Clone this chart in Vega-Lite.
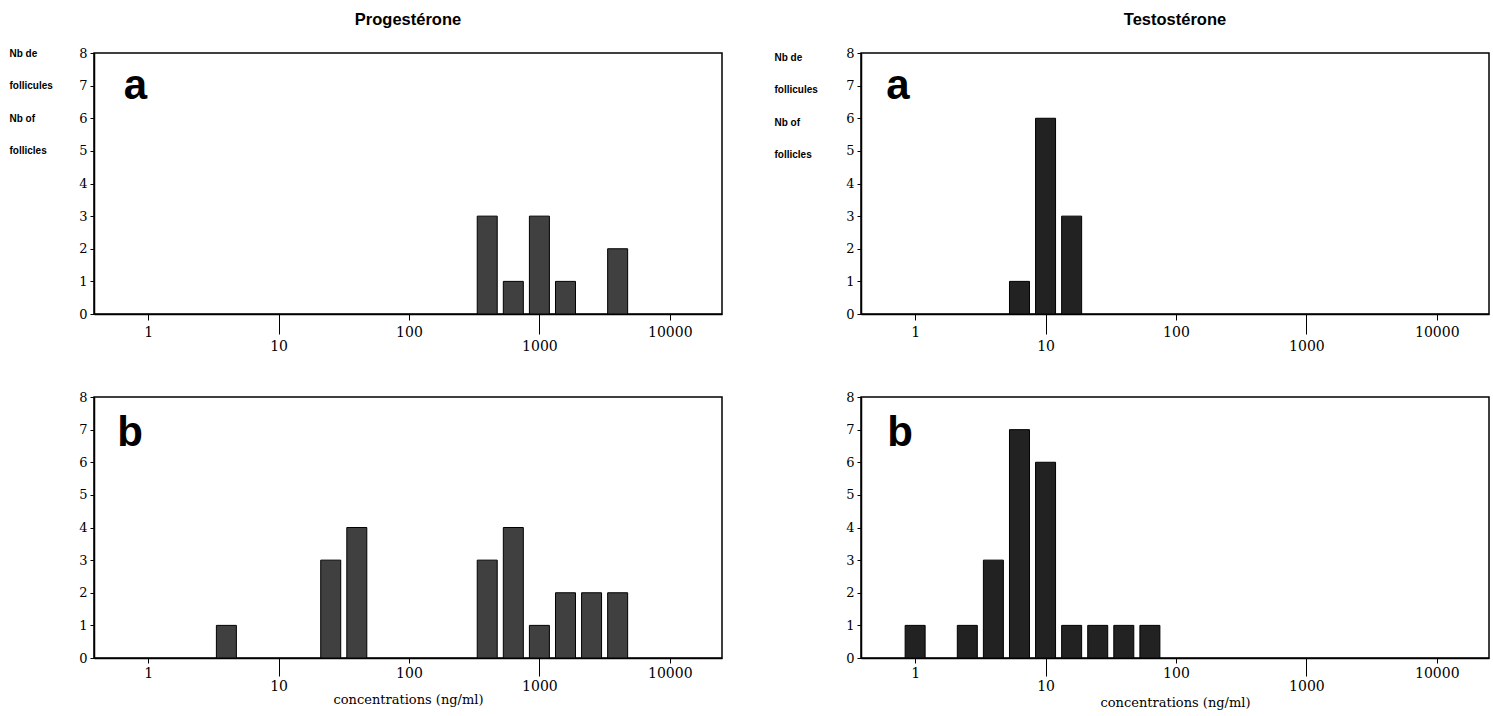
{
  "$schema": "https://vega.github.io/schema/vega-lite/v6.json",
  "background": "white",
  "padding": {"left": 8, "top": 10, "right": 5, "bottom": 5},
  "datasets": {
    "prog_a": [
      {"conc": 398.1, "n": 3}, {"conc": 631.0, "n": 1}, {"conc": 1000, "n": 3},
      {"conc": 1585, "n": 1}, {"conc": 3981, "n": 2}
    ],
    "prog_b": [
      {"conc": 3.981, "n": 1}, {"conc": 25.12, "n": 3}, {"conc": 39.81, "n": 4},
      {"conc": 398.1, "n": 3}, {"conc": 631.0, "n": 4}, {"conc": 1000, "n": 1},
      {"conc": 1585, "n": 2}, {"conc": 2512, "n": 2}, {"conc": 3981, "n": 2}
    ],
    "test_a": [
      {"conc": 6.31, "n": 1}, {"conc": 10, "n": 6}, {"conc": 15.85, "n": 3}
    ],
    "test_b": [
      {"conc": 1, "n": 1}, {"conc": 2.512, "n": 1}, {"conc": 3.981, "n": 3},
      {"conc": 6.31, "n": 7}, {"conc": 10, "n": 6}, {"conc": 15.85, "n": 1},
      {"conc": 25.12, "n": 1}, {"conc": 39.81, "n": 1}, {"conc": 63.1, "n": 1}
    ]
  },
  "columns": 2,
  "spacing": {"row": 83, "column": 139},
  "bounds": "flush",
  "concat": [
    {
      "width": 628, "height": 261,
      "title": {"text": "Progestérone", "frame": "group", "anchor": "middle", "offset": 19, "font": "Liberation Sans", "fontSize": 16.5, "fontWeight": "bold", "color": "black"},
      "layer": [
        {
          "data": {"name": "prog_a"},
          "mark": {"type": "bar", "orient": "vertical", "width": 20, "fill": "#404040", "stroke": "black", "strokeWidth": 1},
          "encoding": {
            "x": {"field": "conc", "type": "quantitative", "scale": {"type": "log", "domain": [0.42, 23000], "nice": false},
              "axis": {"values": [1, 10, 100, 1000, 10000], "format": "d", "title": null, "labelPadding": 5,
                "tickSize": {"condition": {"test": "datum.value == 10 || datum.value == 1000", "value": 20}, "value": 6}}},
            "y": {"field": "n", "type": "quantitative", "scale": {"domain": [0, 8], "nice": false},
              "axis": {"values": [0, 1, 2, 3, 4, 5, 6, 7, 8], "title": ["Nb de", "follicules", "Nb of", "follicles"],
                "titleAngle": 0, "titleAlign": "left", "titleBaseline": "middle", "titleX": -85, "titleY": 0,
                "titleLineHeight": 32.5, "titleFont": "Liberation Sans", "titleFontSize": 10, "titleFontWeight": "bold"}}
          }
        },
        {
          "data": {"values": [{"label": "a"}]},
          "mark": {"type": "text", "font": "Liberation Sans", "fontSize": 42, "fontWeight": "bold", "align": "left", "baseline": "alphabetic", "color": "black"},
          "encoding": {
            "x": {"datum": 0.65, "type": "quantitative",
              "axis": {"values": [1, 10, 100, 1000, 10000], "format": "d", "title": null, "labelPadding": 5,
                "tickSize": {"condition": {"test": "datum.value == 10 || datum.value == 1000", "value": 20}, "value": 6}}},
            "y": {"datum": 6.6, "type": "quantitative",
              "axis": {"values": [0, 1, 2, 3, 4, 5, 6, 7, 8], "title": ["Nb de", "follicules", "Nb of", "follicles"],
                "titleAngle": 0, "titleAlign": "left", "titleBaseline": "middle", "titleX": -85, "titleY": 0,
                "titleLineHeight": 32.5, "titleFont": "Liberation Sans", "titleFontSize": 10, "titleFontWeight": "bold"}},
            "text": {"field": "label"}
          }
        }
      ]
    },
    {
      "width": 628, "height": 261,
      "title": {"text": "Testostérone", "frame": "group", "anchor": "middle", "offset": 19, "font": "Liberation Sans", "fontSize": 16.5, "fontWeight": "bold", "color": "black"},
      "layer": [
        {
          "data": {"name": "test_a"},
          "mark": {"type": "bar", "orient": "vertical", "width": 20, "fill": "#222222", "stroke": "black", "strokeWidth": 1},
          "encoding": {
            "x": {"field": "conc", "type": "quantitative", "scale": {"type": "log", "domain": [0.42, 23000], "nice": false},
              "axis": {"values": [1, 10, 100, 1000, 10000], "format": "d", "title": null, "labelPadding": 5,
                "tickSize": {"condition": {"test": "datum.value == 10 || datum.value == 1000", "value": 20}, "value": 6}}},
            "y": {"field": "n", "type": "quantitative", "scale": {"domain": [0, 8], "nice": false},
              "axis": {"values": [0, 1, 2, 3, 4, 5, 6, 7, 8], "title": ["Nb de", "follicules", "Nb of", "follicles"],
                "titleAngle": 0, "titleAlign": "left", "titleBaseline": "middle", "titleX": -87, "titleY": 4,
                "titleLineHeight": 32.5, "titleFont": "Liberation Sans", "titleFontSize": 10, "titleFontWeight": "bold"}}
          }
        },
        {
          "data": {"values": [{"label": "a"}]},
          "mark": {"type": "text", "font": "Liberation Sans", "fontSize": 42, "fontWeight": "bold", "align": "left", "baseline": "alphabetic", "color": "black"},
          "encoding": {
            "x": {"datum": 0.6, "type": "quantitative",
              "axis": {"values": [1, 10, 100, 1000, 10000], "format": "d", "title": null, "labelPadding": 5,
                "tickSize": {"condition": {"test": "datum.value == 10 || datum.value == 1000", "value": 20}, "value": 6}}},
            "y": {"datum": 6.6, "type": "quantitative",
              "axis": {"values": [0, 1, 2, 3, 4, 5, 6, 7, 8], "title": ["Nb de", "follicules", "Nb of", "follicles"],
                "titleAngle": 0, "titleAlign": "left", "titleBaseline": "middle", "titleX": -87, "titleY": 4,
                "titleLineHeight": 32.5, "titleFont": "Liberation Sans", "titleFontSize": 10, "titleFontWeight": "bold"}},
            "text": {"field": "label"}
          }
        }
      ]
    },
    {
      "width": 628, "height": 261,
      "layer": [
        {
          "data": {"name": "prog_b"},
          "mark": {"type": "bar", "orient": "vertical", "width": 20, "fill": "#404040", "stroke": "black", "strokeWidth": 1},
          "encoding": {
            "x": {"field": "conc", "type": "quantitative", "scale": {"type": "log", "domain": [0.42, 23000], "nice": false},
              "axis": {"values": [1, 10, 100, 1000, 10000], "format": "d", "title": "concentrations (ng/ml)",
                "titleFont": "DejaVu Serif", "titleFontSize": 13, "titleFontWeight": "normal", "titlePadding": 0, "labelPadding": 3,
                "tickSize": {"condition": {"test": "datum.value == 10 || datum.value == 1000", "value": 18}, "value": 5}}},
            "y": {"field": "n", "type": "quantitative", "scale": {"domain": [0, 8], "nice": false},
              "axis": {"values": [0, 1, 2, 3, 4, 5, 6, 7, 8], "title": null}}
          }
        },
        {
          "data": {"values": [{"label": "b"}]},
          "mark": {"type": "text", "font": "Liberation Sans", "fontSize": 42, "fontWeight": "bold", "align": "left", "baseline": "alphabetic", "color": "black"},
          "encoding": {
            "x": {"datum": 0.58, "type": "quantitative",
              "axis": {"values": [1, 10, 100, 1000, 10000], "format": "d", "title": "concentrations (ng/ml)",
                "titleFont": "DejaVu Serif", "titleFontSize": 13, "titleFontWeight": "normal", "titlePadding": 0, "labelPadding": 3,
                "tickSize": {"condition": {"test": "datum.value == 10 || datum.value == 1000", "value": 18}, "value": 5}}},
            "y": {"datum": 6.5, "type": "quantitative",
              "axis": {"values": [0, 1, 2, 3, 4, 5, 6, 7, 8], "title": null}},
            "text": {"field": "label"}
          }
        }
      ]
    },
    {
      "width": 628, "height": 261,
      "layer": [
        {
          "data": {"name": "test_b"},
          "mark": {"type": "bar", "orient": "vertical", "width": 20, "fill": "#222222", "stroke": "black", "strokeWidth": 1},
          "encoding": {
            "x": {"field": "conc", "type": "quantitative", "scale": {"type": "log", "domain": [0.42, 23000], "nice": false},
              "axis": {"values": [1, 10, 100, 1000, 10000], "format": "d", "title": "concentrations (ng/ml)",
                "titleFont": "DejaVu Serif", "titleFontSize": 13, "titleFontWeight": "normal", "titlePadding": 3, "labelPadding": 3,
                "tickSize": {"condition": {"test": "datum.value == 10 || datum.value == 1000", "value": 18}, "value": 5}}},
            "y": {"field": "n", "type": "quantitative", "scale": {"domain": [0, 8], "nice": false},
              "axis": {"values": [0, 1, 2, 3, 4, 5, 6, 7, 8], "title": null}}
          }
        },
        {
          "data": {"values": [{"label": "b"}]},
          "mark": {"type": "text", "font": "Liberation Sans", "fontSize": 42, "fontWeight": "bold", "align": "left", "baseline": "alphabetic", "color": "black"},
          "encoding": {
            "x": {"datum": 0.61, "type": "quantitative",
              "axis": {"values": [1, 10, 100, 1000, 10000], "format": "d", "title": "concentrations (ng/ml)",
                "titleFont": "DejaVu Serif", "titleFontSize": 13, "titleFontWeight": "normal", "titlePadding": 3, "labelPadding": 3,
                "tickSize": {"condition": {"test": "datum.value == 10 || datum.value == 1000", "value": 18}, "value": 5}}},
            "y": {"datum": 6.5, "type": "quantitative",
              "axis": {"values": [0, 1, 2, 3, 4, 5, 6, 7, 8], "title": null}},
            "text": {"field": "label"}
          }
        }
      ]
    }
  ],
  "config": {
    "view": {"stroke": "black", "strokeWidth": 1.5},
    "axis": {
      "grid": false, "domainColor": "black", "domainWidth": 1.5, "tickColor": "black", "tickWidth": 1,
      "labelColor": "black", "labelFlush": false, "labelOverlap": false,
      "titleColor": "black"
    },
    "axisX": {"labelFont": "DejaVu Serif", "labelFontSize": 14},
    "axisY": {"tickSize": 4, "labelPadding": 3, "labelFont": "DejaVu Serif", "labelFontSize": 13}
  }
}
